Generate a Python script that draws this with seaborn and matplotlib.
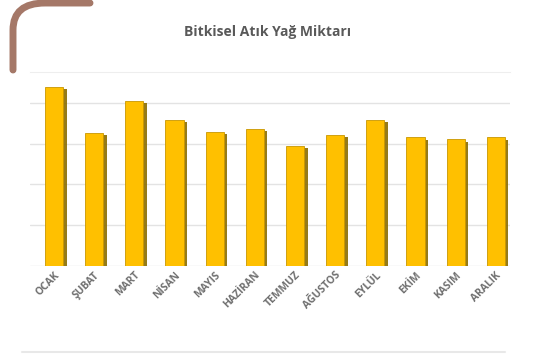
import matplotlib
matplotlib.use('Agg')
import matplotlib.pyplot as plt
import matplotlib.patheffects as pe
from matplotlib.path import Path
from matplotlib.patches import PathPatch
import seaborn as sns
import pandas as pd

aylar = ['OCAK', 'ŞUBAT', 'MART', 'NİSAN', 'MAYIS', 'HAZİRAN',
         'TEMMUZ', 'AĞUSTOS', 'EYLÜL', 'EKİM', 'KASIM', 'ARALIK']
miktar = [4.38, 3.26, 4.05, 3.59, 3.28, 3.36, 2.95, 3.20, 3.59, 3.15, 3.10, 3.15]
grid_seviye = [0, 1, 2, 3, 4]

df = pd.DataFrame({'ay': aylar, 'miktar': miktar})

sns.set_style('white')
plt.rcParams['font.family'] = ['Open Sans', 'DejaVu Sans']

fig = plt.figure(figsize=(5.35, 3.58), dpi=100)
ax = fig.add_axes([0.056, 0.258, 0.897, 0.54])

sns.barplot(data=df, x='ay', y='miktar', color='#FFC000', width=0.45,
            saturation=1, edgecolor='#C99700', linewidth=0.6, ax=ax, zorder=3)
for p in ax.patches:
    p.set_path_effects([pe.SimplePatchShadow(offset=(2.5, -1.5), shadow_rgbFace='#8a6d00', alpha=0.9),
                        pe.Normal()])

ax.set_ylim(0, 4.75)
ax.set_xlim(-0.6, 11.35)
ax.set_yticks(grid_seviye)
ax.set_yticklabels([])
ax.yaxis.grid(True, color='#e3e3e3', linewidth=1)
ax.set_axisbelow(True)
for s in ['left', 'right', 'bottom']:
    ax.spines[s].set_visible(False)
ax.spines['top'].set_color('#eeeeee')
ax.set_xlabel('')
ax.set_ylabel('')
ax.tick_params(axis='both', length=0, pad=3)
plt.setp(ax.get_xticklabels(), rotation=45, ha='right', rotation_mode='anchor',
         fontsize=7.5, color='#707070', fontweight='bold')

fig.text(0.5, 0.91, 'Bitkisel Atık Yağ Miktarı', ha='center', va='center',
         fontsize=10, color='#595959', fontweight='bold')

# köşe süsü
W, H = 535, 358
verts = [(13 / W, 1 - 70 / H), (13 / W, 1 - 30 / H), (13 / W, 1 - 3 / H), (45 / W, 1 - 3 / H),
         (90 / W, 1 - 3 / H)]
codes = [Path.MOVETO, Path.LINETO, Path.CURVE3, Path.CURVE3, Path.LINETO]
fig.patches.append(PathPatch(Path(verts, codes), transform=fig.transFigure, fill=False,
                             edgecolor='#a57868', linewidth=5, capstyle='round'))

fig.add_artist(plt.Line2D([22 / W, 505 / W], [1 - 352 / H, 1 - 352 / H],
                          transform=fig.transFigure, color='#e8e8e8', linewidth=1.5))

fig.savefig('out.png', dpi=100)
